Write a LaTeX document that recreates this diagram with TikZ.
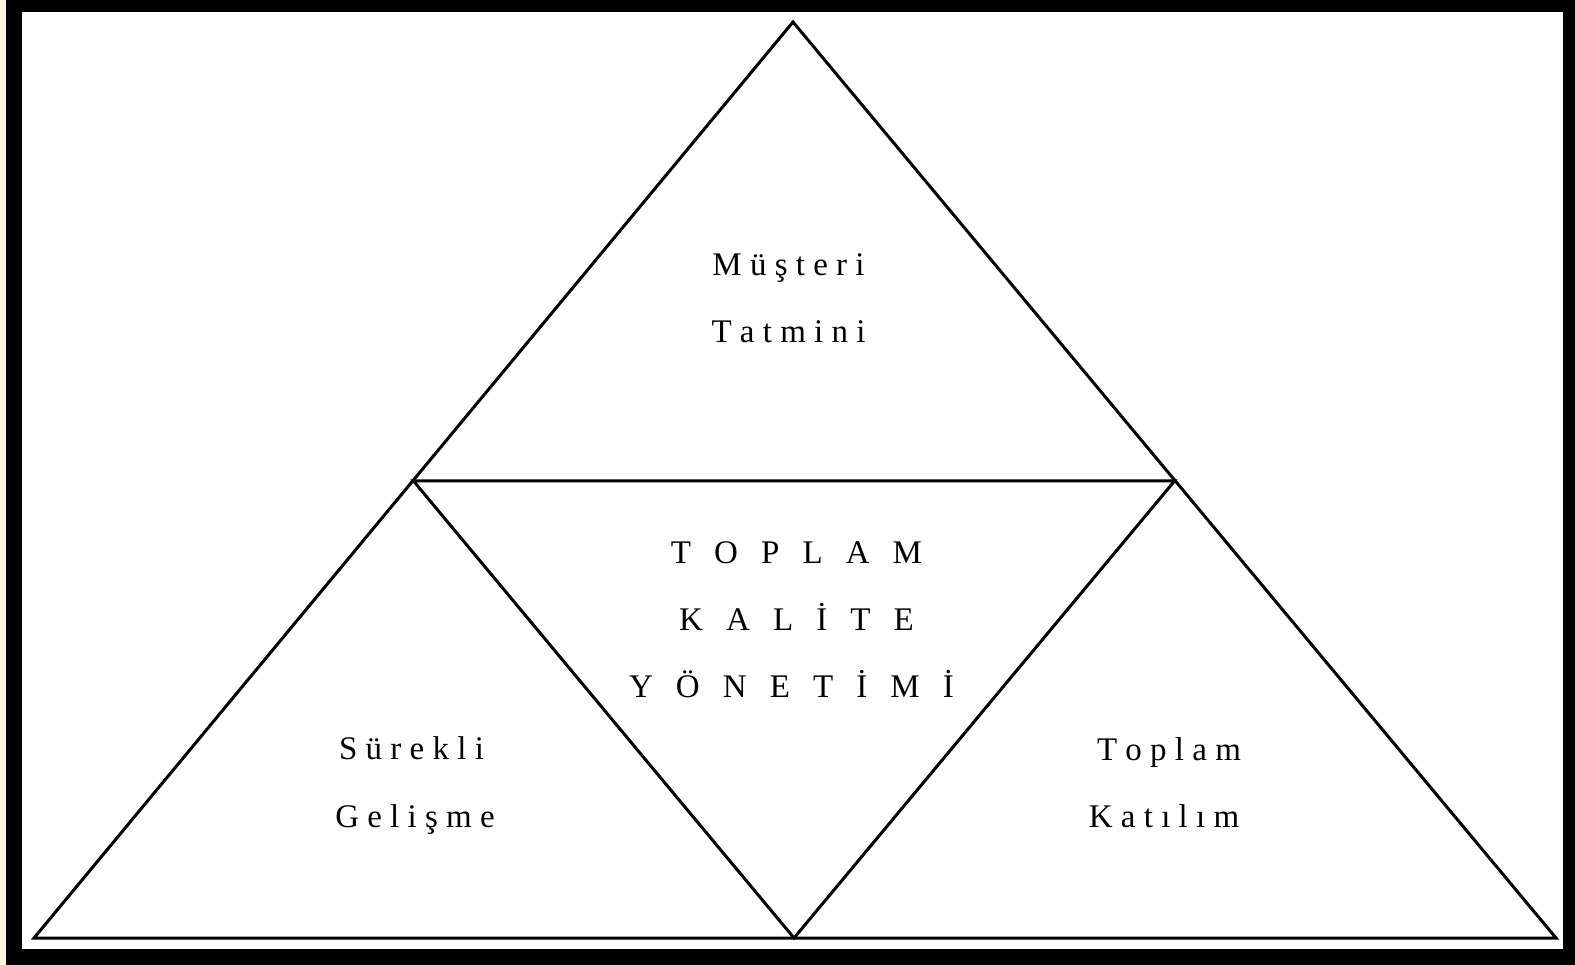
\documentclass[tikz,border=0pt]{standalone}
\usepackage{fontspec}
\setmainfont{Liberation Serif}
\definecolor{cream}{HTML}{FBF3E3}
\newcommand\smsp{\kern0.25em}
\newcommand\bigsp{\kern0.7em}
\tikzset{
  edge/.style={line width=3pt, line join=miter},
  lbl/.style={anchor=base, inner sep=0pt, font=\fontsize{33}{39}\selectfont}
}
\begin{document}
\begin{tikzpicture}[x=1pt,y=-1pt]
\useasboundingbox (0,0) rectangle (1575,965);
\fill[cream] (0,0) rectangle (1575,965);
\fill[black] (6,0) rectangle (1575,965);
\fill[white] (22,12) rectangle (1563,949);
\coordinate (A) at (793,22);
\coordinate (BL) at (34,938);
\coordinate (BR) at (1556,938);
\coordinate (ML) at (413.5,481);
\coordinate (MR) at (1174.5,481);
\coordinate (MB) at (794,938);
\draw[edge] (A) -- (BL) -- (BR) -- cycle;
\draw[edge] (ML) -- (MR) -- (MB) -- cycle;
\node[lbl] (t1) at (788.5,276) {M\smsp ü\smsp ş\smsp t\smsp e\smsp r\smsp i};
\node[lbl] (t2) at (788.5,343) {T\smsp a\smsp t\smsp m\smsp i\smsp n\smsp i};
\node[lbl] (c1) at (796.5,563) {T\bigsp O\bigsp P\bigsp L\bigsp A\bigsp M};
\node[lbl] (c2) at (796.5,630) {K\bigsp A\bigsp L\bigsp İ\bigsp T\bigsp E};
\node[lbl] (c3) at (791.5,697) {Y\bigsp Ö\bigsp N\bigsp E\bigsp T\bigsp İ\bigsp M\bigsp İ};
\node[lbl] (l1) at (411.5,759) {S\smsp ü\smsp r\smsp e\smsp k\smsp l\smsp i};
\node[lbl] (l2) at (415,827) {G\smsp e\smsp l\smsp i\smsp ş\smsp m\smsp e};
\node[lbl] (r1) at (1169,760) {T\smsp o\smsp p\smsp l\smsp a\smsp m};
\node[lbl] (r2) at (1164,827) {K\smsp a\smsp t\smsp ı\smsp l\smsp ı\smsp m};
\end{tikzpicture}
\end{document}
